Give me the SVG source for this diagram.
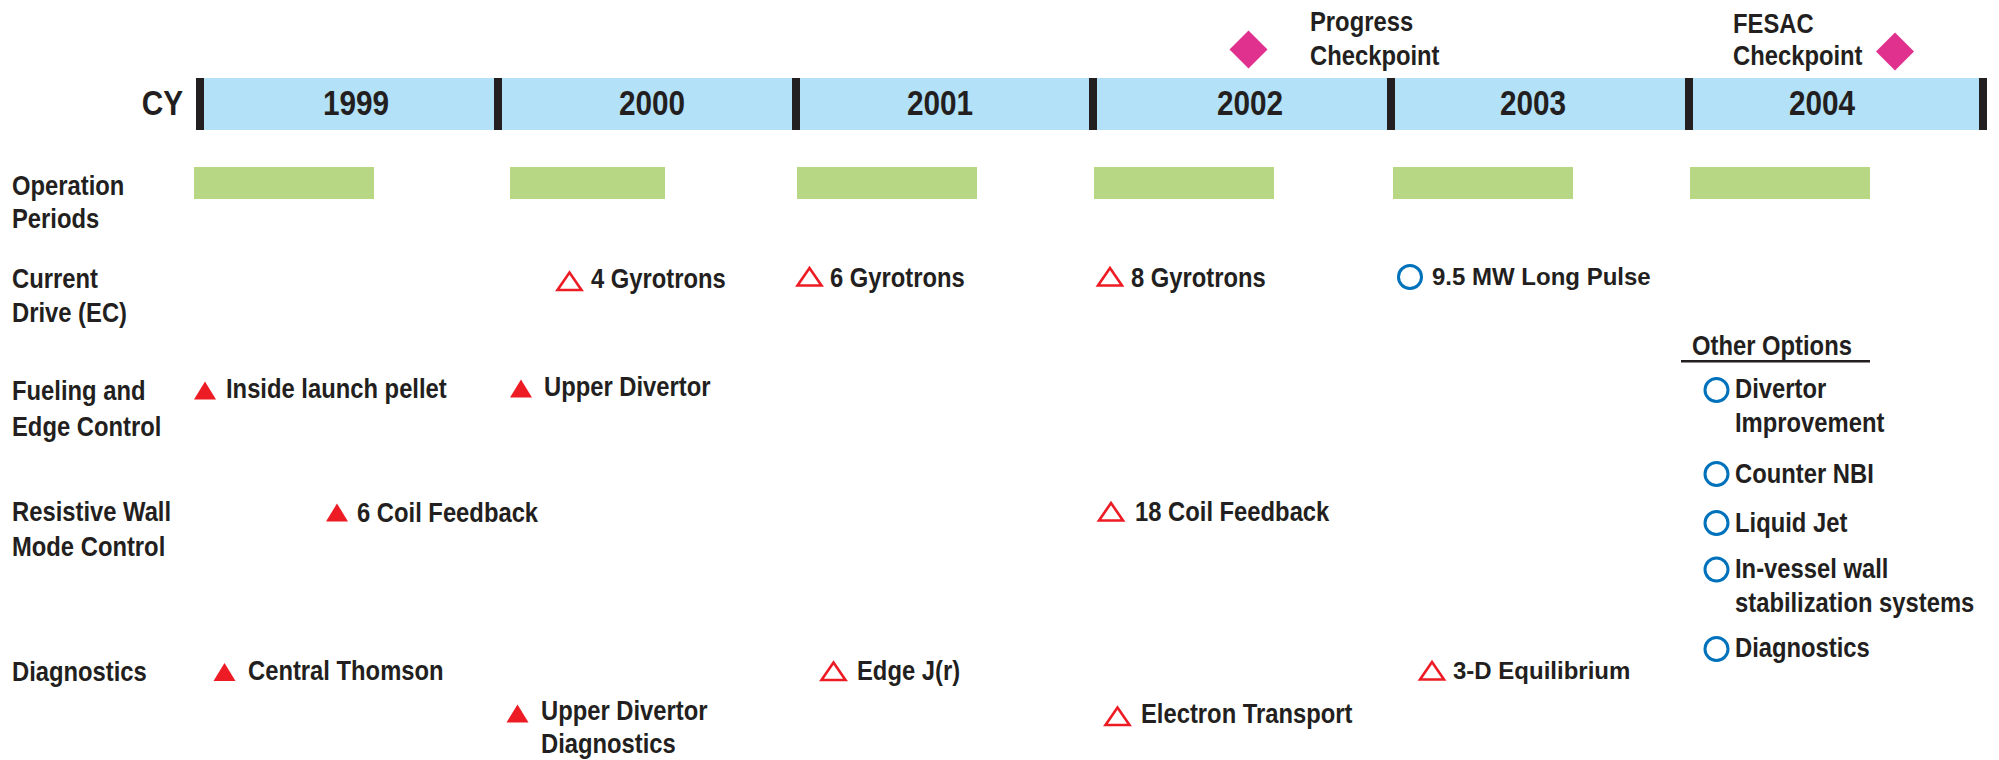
<svg xmlns="http://www.w3.org/2000/svg" xmlns:xlink="http://www.w3.org/1999/xlink" width="1999" height="760" viewBox="0 0 1999 760">
<style>
.c{font-family:"Liberation Sans",Arial,sans-serif;font-weight:bold;font-size:28px;fill:#231f20}
.y{font-family:"Liberation Sans",Arial,sans-serif;font-weight:bold;font-size:35px;fill:#231f20}
.w{font-family:"Liberation Sans",Arial,sans-serif;font-weight:bold;font-size:24px;fill:#231f20}
.tick{fill:#231f20}
.op{fill:#b7d785}
.ring{fill:none;stroke:#0072bc;stroke-width:3}
.dia{fill:#e0318e}
</style>
<defs>
<path id="ot" d="M-12,8.5 L12,8.5 L0,-9 Z" fill="none" stroke="#ed1c24" stroke-width="2.6"/>
<path id="ft" d="M-11,9 L11,9 L0,-9 Z" fill="#ed1c24"/>
</defs>
<rect width="1999" height="760" fill="#ffffff"/>

<g id="timeline">
<rect x="200" y="78" width="1783" height="52" fill="#b2e1f8"/>
<rect class="tick" x="196" y="78" width="8" height="52"/>
<rect class="tick" x="494" y="78" width="8" height="52"/>
<rect class="tick" x="792" y="78" width="8" height="52"/>
<rect class="tick" x="1089" y="78" width="8" height="52"/>
<rect class="tick" x="1387" y="78" width="8" height="52"/>
<rect class="tick" x="1685" y="78" width="8" height="52"/>
<rect class="tick" x="1979" y="78" width="8" height="52"/>
<text class="y" text-anchor="end" transform="translate(183,115) scale(.85,1)">CY</text>
<text class="y" text-anchor="middle" transform="translate(356,115) scale(.85,1)">1999</text>
<text class="y" text-anchor="middle" transform="translate(652,115) scale(.85,1)">2000</text>
<text class="y" text-anchor="middle" transform="translate(940,115) scale(.85,1)">2001</text>
<text class="y" text-anchor="middle" transform="translate(1250,115) scale(.85,1)">2002</text>
<text class="y" text-anchor="middle" transform="translate(1533,115) scale(.85,1)">2003</text>
<text class="y" text-anchor="middle" transform="translate(1822,115) scale(.85,1)">2004</text>
</g>

<g id="progress-checkpoint">
<path class="dia" d="M1248.5,30.5 L1267.5,49.5 L1248.5,68.5 L1229.5,49.5 Z"/>
<text class="c" transform="translate(1310,31) scale(.85,1)">Progress</text>
<text class="c" transform="translate(1310,65) scale(.85,1)">Checkpoint</text>
</g>
<g id="fesac-checkpoint">
<path class="dia" d="M1895,32.5 L1914,51.5 L1895,70.5 L1876,51.5 Z"/>
<text class="c" transform="translate(1733,32.5) scale(.85,1)">FESAC</text>
<text class="c" transform="translate(1733,65) scale(.85,1)">Checkpoint</text>
</g>

<g id="row-labels">
<text class="c" transform="translate(12,195) scale(.85,1)">Operation</text>
<text class="c" transform="translate(12,228) scale(.85,1)">Periods</text>
<text class="c" transform="translate(12,288) scale(.85,1)">Current</text>
<text class="c" transform="translate(12,322) scale(.85,1)">Drive (EC)</text>
<text class="c" transform="translate(12,400) scale(.85,1)">Fueling and</text>
<text class="c" transform="translate(12,436) scale(.85,1)">Edge Control</text>
<text class="c" transform="translate(12,521) scale(.85,1)">Resistive Wall</text>
<text class="c" transform="translate(12,556) scale(.85,1)">Mode Control</text>
<text class="c" transform="translate(12,681) scale(.85,1)">Diagnostics</text>
</g>

<g id="operation-periods">
<rect class="op" x="194" y="167" width="180" height="32"/>
<rect class="op" x="510" y="167" width="155" height="32"/>
<rect class="op" x="797" y="167" width="180" height="32"/>
<rect class="op" x="1094" y="167" width="180" height="32"/>
<rect class="op" x="1393" y="167" width="180" height="32"/>
<rect class="op" x="1690" y="167" width="180" height="32"/>
</g>

<g id="cd-4-gyrotrons"><use xlink:href="#ot" href="#ot" transform="translate(569.5,281.5)"/><text class="c" transform="translate(591,287.5) scale(.85,1)">4 Gyrotrons</text></g>
<g id="cd-6-gyrotrons"><use xlink:href="#ot" href="#ot" transform="translate(809.5,277)"/><text class="c" transform="translate(830,287) scale(.85,1)">6 Gyrotrons</text></g>
<g id="cd-8-gyrotrons"><use xlink:href="#ot" href="#ot" transform="translate(1110,277)"/><text class="c" transform="translate(1131,287) scale(.85,1)">8 Gyrotrons</text></g>
<g id="cd-long-pulse"><circle class="ring" cx="1410" cy="277" r="11.5"/><text class="w" x="1432" y="285">9.5 MW Long Pulse</text></g>

<g id="fe-inside-pellet"><use xlink:href="#ft" href="#ft" transform="translate(205,390.5)"/><text class="c" transform="translate(226,397.5) scale(.85,1)">Inside launch pellet</text></g>
<g id="fe-upper-divertor"><use xlink:href="#ft" href="#ft" transform="translate(521,388.5)"/><text class="c" transform="translate(544,396) scale(.85,1)">Upper Divertor</text></g>

<g id="rwm-6-coil"><use xlink:href="#ft" href="#ft" transform="translate(337,512.5)"/><text class="c" transform="translate(357,522) scale(.85,1)">6 Coil Feedback</text></g>
<g id="rwm-18-coil"><use xlink:href="#ot" href="#ot" transform="translate(1111,512)"/><text class="c" transform="translate(1135,521) scale(.85,1)">18 Coil Feedback</text></g>

<g id="dg-central-thomson"><use xlink:href="#ft" href="#ft" transform="translate(224.5,672)"/><text class="c" transform="translate(248,680) scale(.85,1)">Central Thomson</text></g>
<g id="dg-upper-divertor"><use xlink:href="#ft" href="#ft" transform="translate(517.5,713.5)"/><text class="c" transform="translate(541,720) scale(.85,1)">Upper Divertor</text><text class="c" transform="translate(541,753) scale(.85,1)">Diagnostics</text></g>
<g id="dg-edge-j"><use xlink:href="#ot" href="#ot" transform="translate(833.5,671.5)"/><text class="c" transform="translate(857,680) scale(.85,1)">Edge J(r)</text></g>
<g id="dg-electron-transport"><use xlink:href="#ot" href="#ot" transform="translate(1117.5,716.5)"/><text class="c" transform="translate(1141,723) scale(.85,1)">Electron Transport</text></g>
<g id="dg-3d-equilibrium"><use xlink:href="#ot" href="#ot" transform="translate(1432,671)"/><text class="w" x="1453" y="679">3-D Equilibrium</text></g>

<g id="other-options">
<text class="c" transform="translate(1692,355) scale(.85,1)">Other Options</text>
<line x1="1681" y1="361.3" x2="1870" y2="361.3" stroke="#231f20" stroke-width="2.5"/>
</g>
<g id="oo-divertor"><circle class="ring" cx="1716.5" cy="390" r="11.5"/><text class="c" transform="translate(1735,398) scale(.85,1)">Divertor</text><text class="c" transform="translate(1735,432) scale(.85,1)">Improvement</text></g>
<g id="oo-counter-nbi"><circle class="ring" cx="1716.5" cy="474" r="11.5"/><text class="c" transform="translate(1735,483) scale(.85,1)">Counter NBI</text></g>
<g id="oo-liquid-jet"><circle class="ring" cx="1716.5" cy="523" r="11.5"/><text class="c" transform="translate(1735,532) scale(.85,1)">Liquid Jet</text></g>
<g id="oo-in-vessel"><circle class="ring" cx="1716.5" cy="569.5" r="11.5"/><text class="c" transform="translate(1735,578) scale(.85,1)">In-vessel wall</text><text class="c" transform="translate(1735,612) scale(.85,1)">stabilization systems</text></g>
<g id="oo-diagnostics"><circle class="ring" cx="1716.5" cy="649" r="11.5"/><text class="c" transform="translate(1735,657) scale(.85,1)">Diagnostics</text></g>
</svg>
